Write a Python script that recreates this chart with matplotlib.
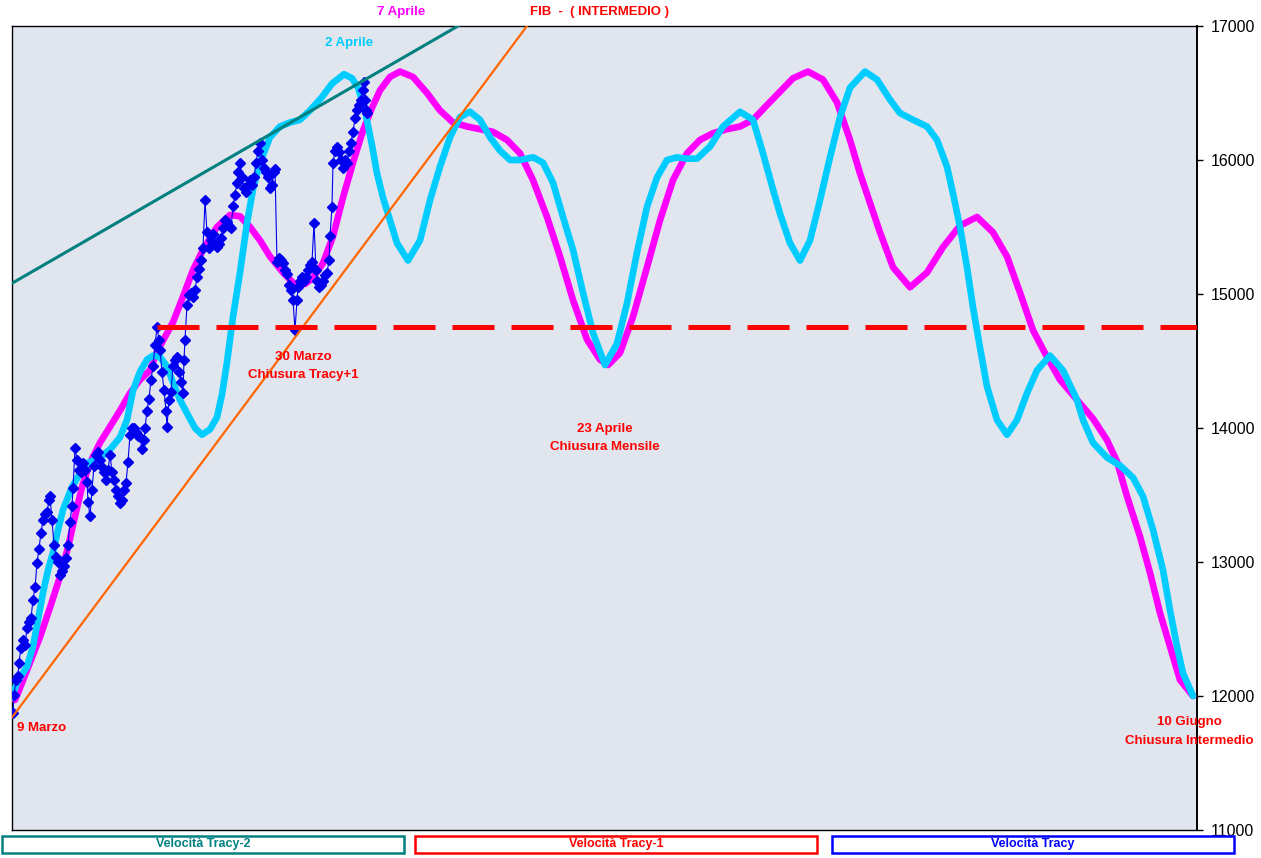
"""Velocita Tracy - FIB intermedio, March to June projection chart."""

import matplotlib
matplotlib.use("Agg")
import matplotlib.pyplot as plt
from matplotlib.patches import Rectangle

plt.rcParams["font.family"] = ["Liberation Sans", "DejaVu Sans"]

# time axis: sessions counted from 9 Marzo (0) to 10 Giugno (1185)
T_END = 1185

# Velocita Tracy-1 (magenta)
tracy1_t = [3, 8, 18, 28, 38, 48, 56, 63, 70, 78, 88, 98, 108, 118, 128, 138, 145, 153,
            161, 171, 181, 191, 205, 218, 228, 238, 248, 258, 271, 283, 293, 301, 311,
            321, 331, 341, 351, 360, 368, 378, 388, 401, 415, 428, 441, 455, 468, 481,
            495, 508, 521, 535, 548, 561, 575, 588, 596, 608, 621, 635, 648, 661, 675,
            688, 701, 715, 728, 741, 755, 768, 781, 796, 811, 825, 838, 848, 858, 868,
            881, 898, 915, 931, 948, 965, 981, 995, 1008, 1021, 1035, 1048, 1065, 1081,
            1095, 1105, 1115, 1128, 1138, 1148, 1158, 1168, 1181]
tracy1_v = [11970, 12060, 12250, 12440, 12660, 12890, 13110, 13340, 13560, 13740, 13890,
            14010, 14130, 14260, 14360, 14430, 14570, 14680, 14790, 14980, 15180, 15330,
            15500, 15590, 15580, 15500, 15400, 15280, 15160, 15070, 15075, 15120, 15230,
            15430, 15720, 15980, 16220, 16390, 16520, 16620, 16660, 16620, 16500, 16370,
            16280, 16250, 16230, 16210, 16150, 16050, 15850, 15575, 15280, 14955, 14660,
            14510, 14470, 14560, 14830, 15200, 15550, 15850, 16050, 16150, 16200, 16230,
            16250, 16300, 16410, 16510, 16610, 16660, 16600, 16430, 16150, 15900, 15680,
            15460, 15200, 15050, 15160, 15350, 15510, 15575, 15460, 15280, 15010, 14730,
            14530, 14360, 14210, 14070, 13910, 13750, 13490, 13190, 12920, 12620, 12370,
            12120, 12000]

# Velocita Tracy-2 (cyan)
tracy2_t = [0, 5, 15, 21, 26, 31, 36, 41, 46, 51, 60, 68, 76, 88, 98, 108, 115, 121, 128,
            135, 141, 148, 155, 161, 168, 175, 183, 190, 198, 205, 210, 215, 221, 228, 235,
            241, 248, 258, 268, 278, 288, 298, 310, 320, 332, 340, 346, 353, 360, 365, 371,
            378, 385, 396, 408, 418, 428, 438, 448, 458, 468, 478, 488, 498, 508, 521, 531,
            541, 551, 561, 571, 581, 593, 605, 615, 625, 635, 645, 655, 665, 675, 685, 698,
            711, 728, 741, 751, 761, 768, 778, 788, 798, 808, 818, 828, 838, 853, 865, 878,
            888, 901, 915, 925, 935, 941, 948, 955, 961, 968, 975, 985, 995, 1005, 1015,
            1025, 1038, 1051, 1065, 1071, 1081, 1095, 1108, 1121, 1131, 1141, 1151, 1158,
            1165, 1171, 1181]
tracy2_v = [11990, 12100, 12220, 12370, 12570, 12770, 12940, 13070, 13240, 13390, 13560,
            13660, 13740, 13780, 13840, 13930, 14060, 14280, 14420, 14510, 14540, 14530,
            14460, 14340, 14210, 14110, 14000, 13950, 13990, 14080, 14250, 14490, 14830,
            15160, 15530, 15780, 15980, 16170, 16250, 16280, 16300, 16370, 16470, 16570,
            16640, 16610, 16540, 16370, 16110, 15900, 15720, 15550, 15380, 15250, 15400,
            15700, 15950, 16170, 16320, 16360, 16300, 16170, 16070, 16000, 16000, 16020,
            15980, 15830, 15575, 15330, 15010, 14710, 14470, 14630, 14930, 15310, 15650,
            15870, 16000, 16020, 16010, 16010, 16100, 16250, 16360, 16300, 16050, 15780,
            15600, 15380, 15250, 15400, 15700, 16020, 16320, 16540, 16660, 16600, 16450,
            16350, 16300, 16250, 16150, 15950, 15750, 15500, 15200, 14900, 14600, 14310,
            14060, 13950, 14060, 14260, 14430, 14540, 14430, 14210, 14060, 13890, 13780,
            13720, 13630, 13490, 13240, 12940, 12640, 12370, 12170, 12000]

# Velocita Tracy (blue, actual FIB quotes)
tracy_t = [1, 2, 4, 6, 7, 9, 11, 13, 15, 17, 19, 21, 23, 25, 27, 29, 31, 33, 35, 37, 38,
           40, 42, 44, 46, 48, 50, 52, 54, 56, 58, 60, 61, 63, 65, 67, 69, 71, 73, 75, 76,
           78, 80, 82, 84, 86, 88, 90, 92, 94, 96, 98, 100, 102, 104, 106, 108, 110, 112,
           114, 116, 118, 120, 122, 124, 126, 128, 130, 132, 133, 135, 137, 139, 141, 143,
           145, 147, 148, 150, 152, 154, 155, 157, 159, 161, 163, 165, 167, 169, 171, 172,
           173, 175, 177, 179, 181, 183, 185, 187, 189, 191, 193, 195, 197, 199, 201, 203,
           205, 207, 209, 211, 213, 215, 217, 219, 221, 223, 225, 226, 228, 230, 232, 234,
           236, 238, 240, 242, 244, 246, 248, 250, 252, 254, 256, 258, 260, 262, 263, 265,
           267, 269, 271, 273, 275, 277, 279, 281, 283, 285, 286, 288, 290, 292, 294, 296,
           298, 300, 302, 304, 305, 307, 309, 311, 313, 315, 317, 318, 320, 321, 323, 325,
           327, 329, 331, 333, 335, 337, 339, 341, 343, 345, 347, 349, 351, 352, 353, 354,
           355]
tracy_v = [11870, 12010, 12120, 12150, 12250, 12360, 12420, 12380, 12510, 12550, 12580,
           12720, 12810, 12990, 13100, 13220, 13310, 13360, 13370, 13460, 13490, 13310,
           13130, 13040, 13000, 12900, 12930, 12970, 13030, 13130, 13300, 13420, 13550,
           13850, 13760, 13690, 13670, 13740, 13690, 13600, 13450, 13340, 13540, 13720,
           13800, 13820, 13760, 13710, 13670, 13610, 13690, 13800, 13670, 13610, 13540,
           13490, 13440, 13460, 13540, 13590, 13750, 13950, 14000, 14000, 13970, 13940,
           13930, 13840, 13910, 14000, 14130, 14220, 14360, 14460, 14620, 14750, 14660,
           14580, 14420, 14280, 14130, 14010, 14210, 14270, 14460, 14510, 14530, 14420,
           14340, 14260, 14510, 14660, 14920, 14990, 15010, 14980, 15030, 15130, 15190,
           15250, 15340, 15700, 15460, 15340, 15400, 15450, 15370, 15350, 15370, 15420,
           15490, 15550, 15540, 15510, 15490, 15660, 15740, 15830, 15910, 15980, 15870,
           15790, 15760, 15810, 15850, 15810, 15870, 15980, 16070, 16130, 16000, 15940,
           15910, 15870, 15790, 15810, 15910, 15930, 15240, 15270, 15250, 15230, 15180,
           15150, 15070, 15030, 14955, 14730, 14955, 15050, 15100, 15130, 15100, 15130,
           15180, 15220, 15240, 15530, 15180, 15100, 15050, 15070, 15100, 15140, 15160,
           15250, 15430, 15650, 15980, 16070, 16100, 16060, 16000, 15940, 16000, 15980,
           16070, 16130, 16210, 16310, 16370, 16410, 16450, 16520, 16580, 16450, 16370,
           16350]

# trend lines and FIB level
upper_trend_t = [0, 446]
upper_trend_v = [15080, 17000]
lower_trend_t = [0, 515]
lower_trend_v = [11840, 17000]
fib_level_t = [145, T_END]
fib_level_v = [14750, 14750]

Y_TICKS = [11000, 12000, 13000, 14000, 15000, 16000, 17000]

LEGEND_LABELS = ["Velocità Tracy-2", "Velocità Tracy-1", "Velocità Tracy"]
LEGEND_COLORS = ["#008080", "#ff0000", "#0000ff"]

MAGENTA = "#ff00ff"
CYAN = "#00ccff"
RED = "#ff0000"


def main():
    fig = plt.figure(figsize=(12.61, 8.58), dpi=100)
    ax = fig.add_axes([12 / 1261, 28 / 858, 1185 / 1261, 804 / 858])
    ax.set_facecolor("#e1e5ee")

    ax.plot(tracy1_t, tracy1_v, color=MAGENTA, lw=4.8, solid_joinstyle="round",
            solid_capstyle="round", zorder=3)
    ax.plot(tracy2_t, tracy2_v, color=CYAN, lw=4.8, solid_joinstyle="round",
            solid_capstyle="round", zorder=4)
    ax.plot(tracy_t, tracy_v, color="#0000ee", lw=0.8, marker="D", ms=4.8,
            mec="#0000ee", mfc="#0000ee", zorder=5)
    ax.plot(upper_trend_t, upper_trend_v, color="#008080", lw=2.2, zorder=6)
    ax.plot(lower_trend_t, lower_trend_v, color="#ff6600", lw=1.6, zorder=6)
    ax.plot(fib_level_t, fib_level_v, color=RED, lw=3.6, ls=(0, (8.4, 3.4)),
            solid_capstyle="butt", dash_capstyle="butt", zorder=7)

    ax.set_xlim(0, T_END)
    ax.set_ylim(11000, 17000)
    ax.set_xticks([])
    ax.yaxis.tick_right()
    ax.set_yticks(Y_TICKS)
    ax.set_yticklabels([str(v) for v in Y_TICKS])
    ax.tick_params(axis="y", direction="out", length=4, width=1, pad=6,
                   labelsize=11.5, colors="black")
    for side in ["left", "top", "bottom"]:
        ax.spines[side].set_linewidth(1)
    ax.spines["right"].set_linewidth(1.4)

    lbl = dict(fontsize=9.5, fontweight="bold", ha="center", va="center", clip_on=False,
               zorder=8)
    ax.text(389, 17104, "7 Aprile", color=MAGENTA, **lbl)
    ax.text(588, 17104, "FIB  -  ( INTERMEDIO )", color=RED, **lbl)
    ax.text(337, 16873, "2 Aprile", color=CYAN, **lbl)
    ax.text(291, 14530, "30 Marzo", color=RED, **lbl)
    ax.text(291, 14396, "Chiusura Tracy+1", color=RED, **lbl)
    ax.text(593, 13993, "23 Aprile", color=RED, **lbl)
    ax.text(593, 13858, "Chiusura Mensile", color=RED, **lbl)
    ax.text(1177, 11806, "10 Giugno", color=RED, **lbl)
    ax.text(1177, 11664, "Chiusura Intermedio", color=RED, **lbl)
    ax.text(5, 11761, "9 Marzo", color=RED, fontsize=9.5, fontweight="bold",
            ha="left", va="center", zorder=8)

    # legend boxes along the bottom edge
    W, H = 1261, 858
    box_x = [2, 415, 832]
    box_w = 402
    for x0, label, color in zip(box_x, LEGEND_LABELS, LEGEND_COLORS):
        fig.patches.append(Rectangle((x0 / W, (H - 853) / H), box_w / W, 17 / H,
                                     transform=fig.transFigure, fill=False,
                                     edgecolor=color, lw=1.8))
        fig.text((x0 + box_w / 2) / W, (H - 844.5) / H, label, color=color,
                 fontsize=9, fontweight="bold", ha="center", va="center")

    fig.savefig("out.png", dpi=100, facecolor="white")


if __name__ == "__main__":
    main()
